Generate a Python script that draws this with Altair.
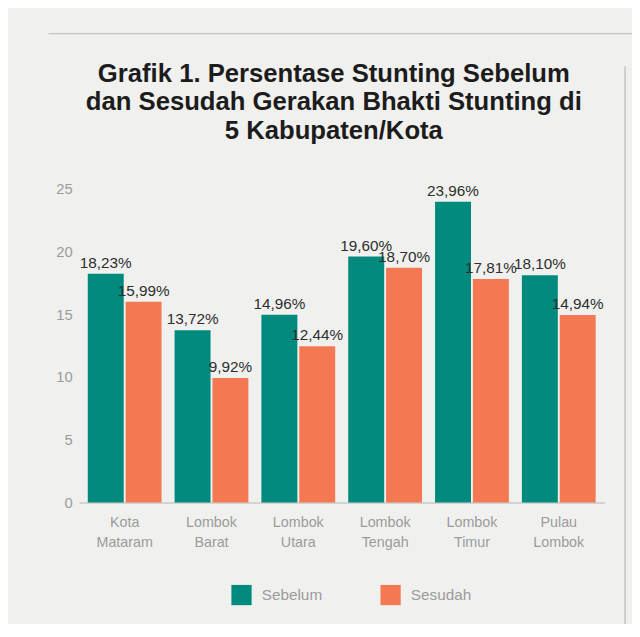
import altair as alt
import pandas as pd

categories = ["Kota Mataram", "Lombok Barat", "Lombok Utara",
              "Lombok Tengah", "Lombok Timur", "Pulau Lombok"]
series = ["Sebelum", "Sesudah"]
sebelum = [18.23, 13.72, 14.96, 19.60, 23.96, 18.10]
sesudah = [15.99, 9.92, 12.44, 18.70, 17.81, 14.94]
y_ticks = [0, 5, 10, 15, 20, 25]
title_lines = ["Grafik 1. Persentase Stunting Sebelum",
               "dan Sesudah Gerakan Bhakti Stunting di",
               "5 Kabupaten/Kota"]

rows = []
for c, a, b in zip(categories, sebelum, sesudah):
    for s, v in zip(series, (a, b)):
        rows.append({"kab": c, "seri": s, "nilai": v,
                     "label": f"{v:.2f}".replace(".", ",") + "%"})
df = pd.DataFrame(rows)

TEAL = "#008a7e"
ORANGE = "#f47953"
BG = "#f0f1ef"
GREY = "#9b9b9b"
FONT = "Liberation Sans"

x = alt.X("kab:N", sort=categories, title=None,
          scale=alt.Scale(paddingInner=0.15, paddingOuter=0.1),
          axis=alt.Axis(labelExpr="split(datum.label, ' ')", labelAngle=0,
                        labelFont=FONT, labelFontSize=14.5, labelColor=GREY,
                        labelLineHeight=20, labelPadding=13, ticks=False,
                        domainColor="#c8c8c8", domainWidth=1.5))
xoff = alt.XOffset("seri:N", sort=series, scale=alt.Scale(paddingInner=0.05))
y = alt.Y("nilai:Q", title=None, scale=alt.Scale(domain=[0, 25], nice=False),
          axis=alt.Axis(values=y_ticks, domain=False, ticks=False, grid=False,
                        labelFont=FONT, labelFontSize=15, labelColor=GREY,
                        labelPadding=7))
color = alt.Color("seri:N", sort=series,
                  scale=alt.Scale(domain=series, range=[TEAL, ORANGE]),
                  legend=alt.Legend(title=None, orient="none", legendX=154, legendY=401,
                                    direction="horizontal", symbolType="square",
                                    symbolSize=420, symbolStrokeWidth=0, symbolOpacity=1,
                                    labelFont=FONT, labelFontSize=15.5, labelColor=GREY,
                                    labelOffset=10, columnPadding=58, padding=0))

base = alt.Chart(df)
bars = base.mark_bar().encode(x=x, xOffset=xoff, y=y, color=color)
texts = base.mark_text(baseline="bottom", dy=-3, font=FONT, fontSize=15.5,
                       color="#2e2e2e").encode(x=x, xOffset=xoff, y=y, text="label:N")

deco = pd.DataFrame({"d": [0]})
top_line = alt.Chart(deco).mark_rule(color="#c4c4c4", strokeWidth=1.5).encode(
    x=alt.value(-31), x2=alt.value(560), y=alt.value(-157))
side_line = alt.Chart(deco).mark_rule(color="#c4c4c4", strokeWidth=1.5).encode(
    x=alt.value(553), y=alt.value(-124), y2=alt.value(450))

chart = alt.layer(top_line, side_line, bars, texts).properties(
    width=532, height=318,
    autosize=alt.AutoSizeParams(type="none"),
    padding={"left": 72, "top": 179, "right": 28, "bottom": 119},
    title=alt.TitleParams(text=title_lines, font=FONT, fontSize=26,
                          fontWeight="bold", color="#1c1c1c", anchor="middle",
                          frame="group", dx=-8, offset=-138, lineHeight=28.5,
                          baseline="bottom"),
).configure(background=BG).configure_view(stroke=None)

chart.save("out.html", embed_options={"renderer": "svg", "actions": False})
